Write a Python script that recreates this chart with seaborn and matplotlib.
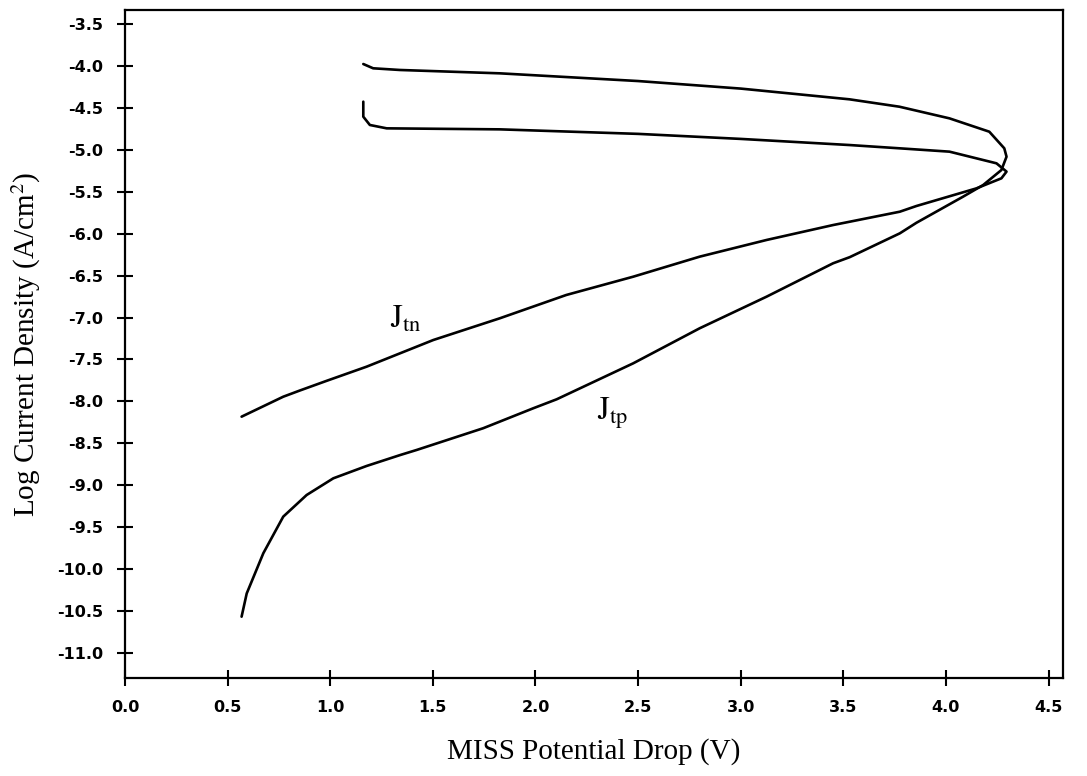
import numpy as np
import pandas as pd
import seaborn as sns
import matplotlib
matplotlib.use('Agg')
import matplotlib.pyplot as plt

jtp_v = [0.568, 0.593, 0.674, 0.771, 0.885, 1.015, 1.177, 1.34, 1.421, 1.745,
         1.989, 2.103, 2.476, 2.80, 3.126, 3.45, 3.531, 3.775, 3.856, 4.083,
         4.181, 4.27, 4.295, 4.284, 4.211, 4.017, 3.773, 3.53, 3.0, 2.5,
         1.826, 1.339, 1.209, 1.161]
jtp_logj = [-10.567, -10.29, -9.81, -9.374, -9.116, -8.917, -8.77, -8.64, -8.579, -8.32,
            -8.082, -7.975, -7.546, -7.128, -6.751, -6.353, -6.28, -5.996, -5.87, -5.559,
            -5.42, -5.241, -5.082, -4.982, -4.784, -4.625, -4.486, -4.398, -4.27, -4.18,
            -4.088, -4.048, -4.028, -3.977]

jtn_v = [0.568, 0.771, 0.852, 0.982, 1.177, 1.502, 1.826, 2.15, 2.476, 2.80,
         3.126, 3.45, 3.775, 3.856, 4.148, 4.27, 4.295, 4.246, 4.017, 3.773,
         3.53, 3.0, 2.5, 1.826, 1.275, 1.193, 1.161, 1.161]
jtn_logj = [-8.182, -7.944, -7.87, -7.755, -7.586, -7.268, -7.009, -6.731, -6.513, -6.274,
            -6.075, -5.897, -5.738, -5.67, -5.46, -5.34, -5.26, -5.161, -5.022, -4.982,
            -4.943, -4.87, -4.81, -4.756, -4.744, -4.704, -4.605, -4.426]

x_ticks = np.arange(0.0, 4.51, 0.5)
y_ticks = np.arange(-11.0, -3.49, 0.5)

sns.set_style('white')
plt.rcParams['mathtext.fontset'] = 'stix'
plt.rcParams['font.family'] = ['DejaVu Sans']

fig = plt.figure(figsize=(10.87, 7.76), dpi=100)
ax = fig.add_axes([0.115, 0.1263, 0.8629, 0.8608])

jtp = pd.DataFrame({'v': jtp_v, 'logj': jtp_logj})
jtn = pd.DataFrame({'v': jtn_v, 'logj': jtn_logj})
sns.lineplot(data=jtp, x='v', y='logj', sort=False, estimator=None, color='black', lw=1.9, ax=ax)
sns.lineplot(data=jtn, x='v', y='logj', sort=False, estimator=None, color='black', lw=1.9, ax=ax)

ax.text(1.29, -7.12, r'$\mathrm{J}_{\mathrm{tn}}$', fontsize=23, color='black')
ax.text(2.30, -8.22, r'$\mathrm{J}_{\mathrm{tp}}$', fontsize=23, color='black')

ax.set_xlim(0, 4.57)
ax.set_ylim(-11.298, -3.333)
ax.set_xticks(x_ticks)
ax.set_yticks(y_ticks)
ax.set_xticklabels(['%.1f' % t for t in x_ticks])
ax.set_yticklabels(['%.1f' % t for t in y_ticks])
ax.tick_params(direction='inout', length=11, width=1.5, pad=10,
               labelsize=11.5, colors='black', bottom=True, left=True, top=False, right=False)
for lab in ax.get_xticklabels() + ax.get_yticklabels():
    lab.set_fontweight('bold')

for s in ax.spines.values():
    s.set_visible(True)
    s.set_color('black')
    s.set_linewidth(1.6)

ax.set_xlabel('MISS Potential Drop (V)', family='Liberation Serif', fontsize=21,
              labelpad=17, color='black')
ax.set_ylabel(r'Log Current Density (A/cm$^2$)', family='Liberation Serif', fontsize=21,
              labelpad=10, color='black')

fig.savefig('out.png', dpi=100)
